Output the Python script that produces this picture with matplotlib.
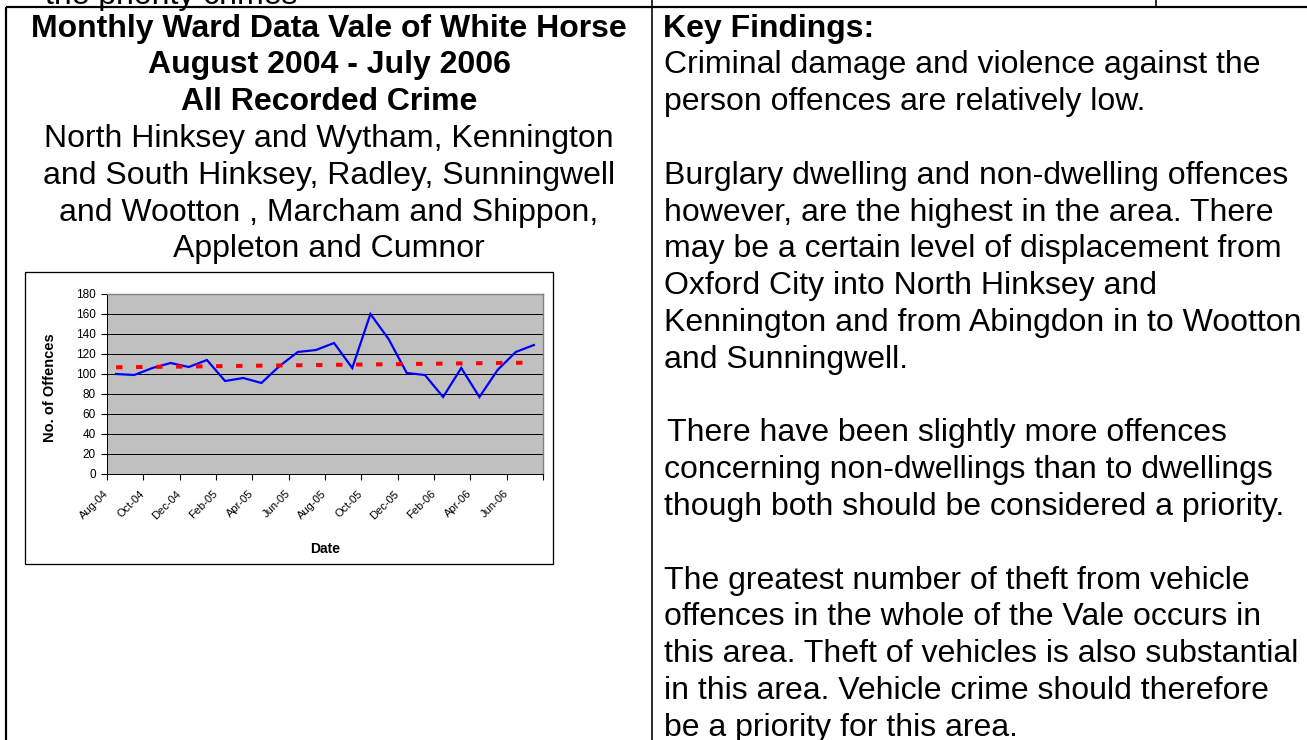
import matplotlib
matplotlib.use("Agg")
import matplotlib.pyplot as plt
from matplotlib.patches import Rectangle
from matplotlib.ticker import FixedLocator, FixedFormatter

plt.rcParams['font.family'] = ['Liberation Sans', 'DejaVu Sans']

# ---------------- data ----------------
months = ["Aug-04", "Sep-04", "Oct-04", "Nov-04", "Dec-04", "Jan-05",
          "Feb-05", "Mar-05", "Apr-05", "May-05", "Jun-05", "Jul-05",
          "Aug-05", "Sep-05", "Oct-05", "Nov-05", "Dec-05", "Jan-06",
          "Feb-06", "Mar-06", "Apr-06", "May-06", "Jun-06", "Jul-06"]
offences = [100, 99, 106, 111, 107, 114, 93, 96, 91, 108, 122, 124,
            131, 106, 160, 135, 101, 99, 77, 106, 77, 104, 122, 129]
trend_ends = [106.7, 111.4]          # linear trend at first and last month
tick_labels = ["Aug-04", "Oct-04", "Dec-04", "Feb-05", "Apr-05", "Jun-05",
               "Aug-05", "Oct-05", "Dec-05", "Feb-06", "Apr-06", "Jun-06", ""]
y_ticks = [0, 20, 40, 60, 80, 100, 120, 140, 160, 180]

left_title = ["Monthly Ward Data Vale of White Horse",
              "August 2004 - July 2006",
              "All Recorded Crime"]
left_wards = ["North Hinksey and Wytham, Kennington",
              "and South Hinksey, Radley, Sunningwell",
              "and Wootton , Marcham and Shippon,",
              "Appleton and Cumnor"]
right_heading = "Key Findings:"
right_lines = [
    "Criminal damage and violence against the",
    "person offences are relatively low.",
    "",
    "Burglary dwelling and non-dwelling offences",
    "however, are the highest in the area. There",
    "may be a certain level of displacement from",
    "Oxford City into North Hinksey and",
    "Kennington and from Abingdon in to Wootton",
    "and Sunningwell.",
    "",
    "There have been slightly more offences",
    "concerning non-dwellings than to dwellings",
    "though both should be considered a priority.",
    "",
    "The greatest number of theft from vehicle",
    "offences in the whole of the Vale occurs in",
    "this area. Theft of vehicles is also substantial",
    "in this area. Vehicle crime should therefore",
    "be a priority for this area.",
]
top_fragment = "the priority crimes"

# ---------------- figure ----------------
W, H = 1307, 740
fig = plt.figure(figsize=(W / 100, H / 100), dpi=100)
fig.patch.set_facecolor("white")

# page overlay in pixel coordinates
pg = fig.add_axes([0, 0, 1, 1], zorder=0)
pg.set_xlim(0, W)
pg.set_ylim(H, 0)
pg.axis("off")

px = 0.72  # one pixel in points

# table lines
pg.plot([6, W], [7, 7], color="black", lw=2.2 * px, solid_capstyle="butt")
pg.plot([6, 6], [7, H], color="black", lw=2.2 * px, solid_capstyle="butt")
pg.plot([651.5, 651.5], [0, H], color="black", lw=1.6 * px, solid_capstyle="butt")
pg.plot([1156, 1156], [0, 7], color="black", lw=1.6 * px, solid_capstyle="butt")

FS = 23
LH = 36.8
B0 = 36.5

# clipped fragment of the previous row
pg.text(45, 4, top_fragment, fontsize=FS, ha="left", va="baseline",
        color="black", clip_on=False)

# left column text
cx = 329
for i, s in enumerate(left_title):
    pg.text(cx, B0 + LH * i, s, fontsize=FS, fontweight="bold",
            ha="center", va="baseline")
for j, s in enumerate(left_wards):
    pg.text(cx, B0 + LH * (j + 3), s, fontsize=FS, ha="center", va="baseline")

# right column text
pg.text(663, B0, right_heading, fontsize=FS, fontweight="bold",
        ha="left", va="baseline")
for k, s in enumerate(right_lines):
    if not s:
        continue
    x0 = 667 if s.startswith("There have") else 664
    pg.text(x0, B0 + LH * (k + 1), s, fontsize=FS, ha="left", va="baseline")

# chart frame
pg.add_patch(Rectangle((25, 272), 528, 292, facecolor="white",
                       edgecolor="black", lw=1.3 * px))

# ---------------- chart ----------------
L, R, T, Bt = 107, 543, 294, 474
ax = fig.add_axes([L / W, (H - Bt) / H, (R - L) / W, (Bt - T) / H], zorder=1)
ax.set_facecolor("#C0C0C0")
x = list(range(len(months)))
ax.set_xlim(-0.5, len(months) - 0.5)
ax.set_ylim(0, 180)
ax.set_yticks(y_ticks)
ax.yaxis.grid(True, color="black", lw=1.0 * px)
ax.set_axisbelow(True)

ax.plot(x, offences, color="#0000FF", lw=2.2 * px, zorder=3,
        solid_joinstyle="miter")
ax.plot([x[0], x[-1]], trend_ends, color="#FF0000", lw=4 * px,
        dashes=(1.6, 3.4), dash_capstyle="butt", zorder=4)

tick_pos = [i - 0.5 for i in range(0, len(months) + 1, 2)]
ax.xaxis.set_major_locator(FixedLocator(tick_pos))
ax.xaxis.set_major_formatter(FixedFormatter(tick_labels))
ax.tick_params(axis="x", direction="out", length=4, width=0.8, pad=9,
               labelsize=8.0, colors="black")
ax.tick_params(axis="y", direction="out", length=4, width=0.8, pad=4,
               labelsize=8.5, colors="black")
for lab in ax.get_xticklabels():
    lab.set_rotation(45)
    lab.set_ha("right")
    lab.set_va("center")
    lab.set_rotation_mode("anchor")

for side in ("left", "bottom"):
    ax.spines[side].set_color("black")
    ax.spines[side].set_linewidth(1.0 * px)
for side in ("top", "right"):
    ax.spines[side].set_color("#808080")
    ax.spines[side].set_linewidth(1.4 * px)

# axis titles
pg.text(50, 388, "No. of Offences", fontsize=10.5, fontweight="bold",
        rotation=90, ha="center", va="center")
pg.text(325, 549, "Date", fontsize=10, fontweight="bold",
        ha="center", va="center")

fig.savefig("out.png", dpi=100, facecolor="white")
